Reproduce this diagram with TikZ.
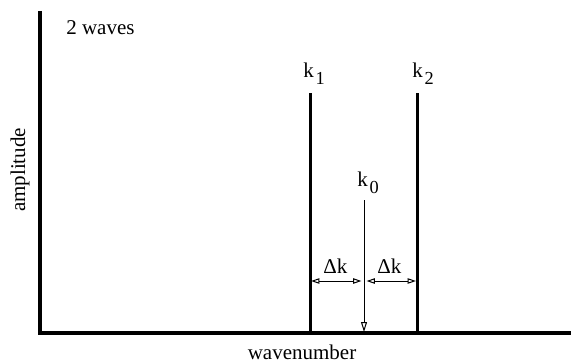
\documentclass[tikz,border=0pt]{standalone}
\usepackage{fontspec}
\setmainfont{Liberation Serif}
\usetikzlibrary{arrows.meta,positioning}

\newcommand{\ksub}[1]{k\kern1pt\raisebox{-4.2pt}{\fontsize{11}{12}\selectfont #1}}

\begin{document}
\begin{tikzpicture}[
  x=0.6pt,
  y=-0.6pt,
  axis/.style={line width=2.4pt, line join=miter},
  wave/.style={line width=1.8pt},
  guide/.style={line width=0.6pt},
  opentip/.style={-{Triangle[open,length=6pt,width=3.6pt]}},
  twotip/.style={{Triangle[open,length=5pt,width=3.2pt]}-{Triangle[open,length=5pt,width=3.2pt]}},
  txt/.style={
    font=\fontsize{12.6}{14}\selectfont,
    inner sep=0pt,
    anchor=base west
  }
]
  \useasboundingbox (0,0) rectangle (571,362);

  % axes
  \coordinate (ytop) at (40,11);
  \coordinate (origin) at (40,333);
  \coordinate (xend) at (571,333);
  \draw[axis] (ytop) -- (origin) -- (xend);

  % the two waves
  \coordinate (k1top) at (310,93);
  \coordinate (k1base) at (310,332);
  \coordinate (k2top) at (417,93);
  \coordinate (k2base) at (417,332);
  \draw[wave] (k1top) -- (k1base);
  \draw[wave] (k2top) -- (k2base);

  % centre wavenumber
  \coordinate (k0top) at (364,200);
  \coordinate (k0base) at (364,332);
  \draw[guide,opentip] (k0top) -- (k0base);

  % spacing
  \coordinate (dleft) at (311,281);
  \coordinate (dmid) at (364,281);
  \coordinate (dright) at (416,281);
  \draw[guide,twotip,shorten >=1.5] (dleft) -- (dmid);
  \draw[guide,twotip,shorten <=1.5] (dmid) -- (dright);

  % labels
  \node[txt] (title) at (66,35) {2 waves};
  \node[txt] (k1) at (303,78) {\ksub{1}};
  \node[txt] (k2) at (412,78) {\ksub{2}};
  \node[txt] (k0) at (357,186) {\ksub{0}};
  \node[txt] (dk1) at (323,273) {Δk};
  \node[txt] (dk2) at (377,273) {Δk};
  \node[txt,anchor=base] (xlabel) at (302,359) {wavenumber};
  \node[txt,anchor=base,rotate=90] (ylabel) at (25,170) {amplitude};
\end{tikzpicture}
\end{document}
